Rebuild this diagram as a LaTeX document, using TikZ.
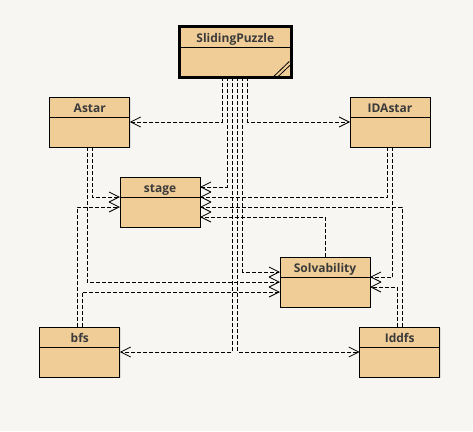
\documentclass[tikz,border=0pt]{standalone}
\usepackage{fontspec}
\setmainfont{Open Sans}
\usetikzlibrary{arrows.meta}
\usetikzlibrary{shadows}

\definecolor{canvas}{RGB}{247,246,242}
\definecolor{classfill}{RGB}{240,205,151}
\definecolor{classtext}{RGB}{58,58,58}

\begin{document}
\begin{tikzpicture}[x=1pt, y=-1pt, >={Straight Barb[length=10pt, width=10pt]},
    klass/.style={draw=black, fill=classfill, line width=1pt, outer sep=0pt, inner ysep=0pt,
        minimum width=80pt, text height=15pt, text depth=35pt, text=classtext,
        font=\bfseries\fontsize{12}{14}\selectfont,
        drop shadow={shadow xshift=1pt, shadow yshift=-1pt, opacity=.2},
        path picture={\draw[black, line width=1pt]
            ([yshift=-#1]path picture bounding box.north west) --
            ([yshift=-#1]path picture bounding box.north east);}},
    klass/.default=20pt,
    dep/.style={dash pattern=on 4pt off 2pt, line width=.8pt, ->}]

    % =========================
    \fill[canvas] (0,0) rectangle (473,431);
    \useasboundingbox (0,0) rectangle (473,431);

    \node[klass=21.5pt, line width=3pt, minimum width=112pt, text height=16.5pt, text depth=34.8pt]
        (sp) at (235.3,51.8) {SlidingPuzzle};
    \node[klass] (astar)   at (89.8,122)  {Astar};
    \node[klass] (idastar) at (390,122)   {IDAstar};
    \node[klass] (stage)   at (160,202)   {stage};
    \node[klass, minimum width=90pt] (solv) at (325,282) {Solvability};
    \node[klass] (bfs)     at (79.8,352)  {bfs};
    \node[klass] (iddfs)   at (399.7,352) {Iddfs};

    % grip in the corner
    \draw[line width=.8pt] ([shift={(-17.5pt,1pt)}]sp.south east) -- ([shift={(-2pt,16pt)}]sp.south east);
    \draw[line width=.8pt] ([shift={(-13pt,1pt)}]sp.south east) -- ([shift={(-1.5pt,12pt)}]sp.south east);

    % ===============================
    \foreach \src/\dx/\dst/\dy in {
        sp.south/-12.5/astar.east/0,
        sp.south/-7.5/stage.east/15,
        sp.south/-2.5/bfs.east/0,
        sp.south/2.5/iddfs.west/0,
        sp.south/7.5/solv.west/10,
        sp.south/12.5/idastar.west/0,
        astar.south/2.5/stage.west/5,
        astar.south/-2.5/solv.west/0,
        bfs.north/-2.5/stage.west/-5,
        bfs.north/2.5/solv.west/-10,
        idastar.south/-2.5/stage.east/5,
        idastar.south/2.5/solv.east/5,
        iddfs.north/2.5/stage.east/-5,
        iddfs.north/-2.5/solv.east/-5,
        solv.north/0/stage.east/-15}
        \draw[dep] ([xshift=\dx pt]\src) |- ([yshift=\dy pt]\dst);
\end{tikzpicture}
\end{document}
